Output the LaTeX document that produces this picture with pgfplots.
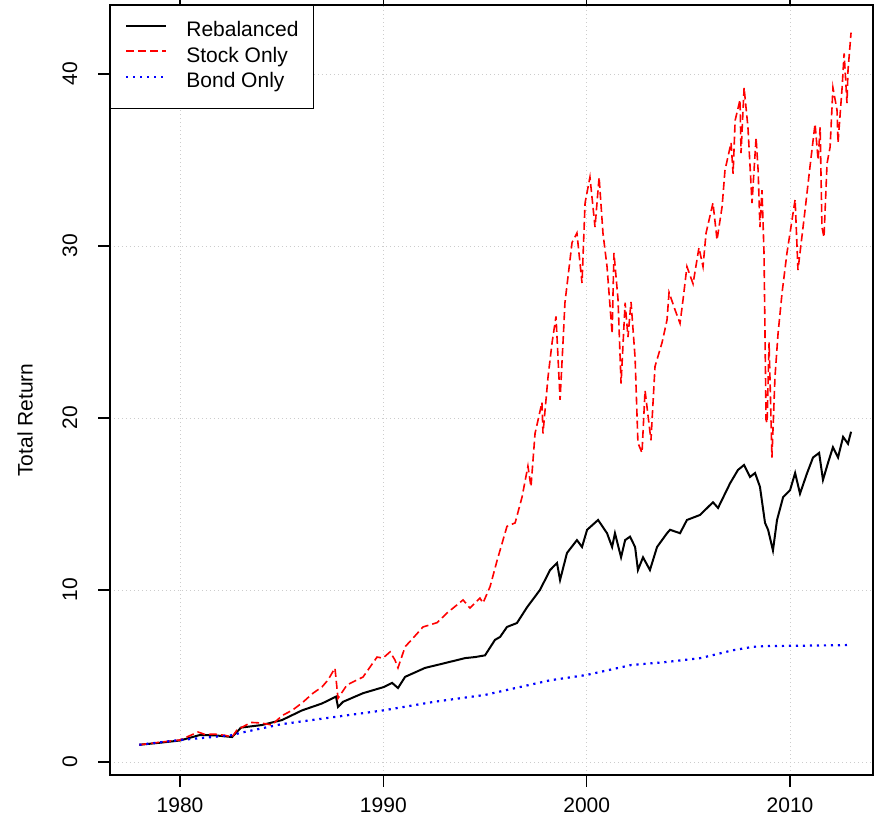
\documentclass[border=0pt]{standalone}
\usepackage{fontspec}
\setmainfont{Liberation Sans}
\usepackage{pgfplots}
\pgfplotsset{compat=1.18}

\begin{document}
\begin{tikzpicture}
\fontsize{21}{25}\selectfont
\begin{axis}[
  scale only axis,
  width=763pt, height=770pt,
  xmin=1976.557, xmax=2014.08,
  ymin=-0.756, ymax=44.01,
  xtick={1980,1990,2000,2010},
  ytick={0,10,20,30,40},
  /pgf/number format/assume math mode=true,
  xticklabel={\pgfmathprintnumber[1000 sep={},fixed]{\tick}},
  tick align=outside,
  major tick length=12pt,
  tick style={black, line width=1.1pt},
  axis line style={line width=1.3pt},
  grid=major,
  major grid style={gray!40, line width=0.9pt, dash pattern=on 1pt off 3pt},
  ticklabel style={font=\fontsize{21}{25}\selectfont, inner sep=0pt},
  xticklabel style={anchor=north, yshift=-10.5pt},
  yticklabel style={rotate=90, anchor=south, yshift=20.5pt},
  ylabel={Total Return},
  ylabel style={font=\fontsize{21}{25}\selectfont, at={(axis description cs:-0.1114,0.461)}, anchor=center, inner sep=0pt},
  legend cell align=left,
  legend style={name=leg, at={(0,1)}, anchor=north west, draw=none, fill=white,
    font=\fontsize{21}{25}\selectfont, inner xsep=15pt, inner ysep=16.5pt,
    row sep=6.5pt,
    nodes={inner sep=0pt, text height=15pt, text depth=4pt},
    /tikz/every odd column/.append style={column sep=19pt}},
  legend image code/.code={\draw[#1] (0pt,5.5pt) -- (40pt,5.5pt);},
]

% Rebalanced
\addplot[color=black, line width=2pt] coordinates {
(1978.0,1.0) (1979.02,1.12) (1980.0,1.25) (1980.98,1.57) (1981.72,1.55) (1982.56,1.45)
(1983.0,2.0) (1984.03,2.15) (1985.02,2.44) (1986.0,3.0) (1986.98,3.4) (1987.67,3.8)
(1987.77,3.2) (1988.02,3.5) (1989.0,4.0) (1990.03,4.36) (1990.43,4.6) (1990.72,4.3)
(1991.07,4.95) (1992.05,5.47) (1993.03,5.75) (1994.02,6.04) (1994.51,6.1) (1995.0,6.2)
(1995.49,7.1) (1995.74,7.27) (1996.08,7.85) (1996.57,8.08) (1997.07,9.0) (1997.70,10.0)
(1998.20,11.16) (1998.54,11.57) (1998.69,10.58) (1999.03,12.15) (1999.52,12.9) (1999.77,12.5)
(2000.02,13.5) (2000.56,14.07) (2001.0,13.3) (2001.25,12.5) (2001.39,13.3) (2001.69,11.9)
(2001.89,12.9) (2002.13,13.1) (2002.38,12.5) (2002.52,11.16) (2002.77,11.9) (2003.11,11.16)
(2003.46,12.5) (2003.95,13.3) (2004.10,13.5) (2004.59,13.3) (2004.93,14.07) (2005.57,14.36)
(2006.21,15.1) (2006.46,14.77) (2007.05,16.2) (2007.44,16.98) (2007.74,17.27) (2008.03,16.57)
(2008.28,16.8) (2008.52,16.0) (2008.77,13.9) (2008.92,13.5) (2009.16,12.3) (2009.36,14.07)
(2009.66,15.4) (2010.0,15.8) (2010.25,16.8) (2010.49,15.6) (2010.84,16.8) (2011.13,17.7)
(2011.43,17.97) (2011.62,16.4) (2011.87,17.4) (2012.11,18.3) (2012.36,17.7) (2012.61,18.9)
(2012.85,18.5) (2013.0,19.2)
};
\addlegendentry{Rebalanced}

% Stock Only
\addplot[color=red, line width=1.6pt, dash pattern=on 8pt off 4pt] coordinates {
(1978.0,1.0) (1979.02,1.15) (1980.0,1.28) (1980.89,1.74) (1981.23,1.6) (1981.72,1.62)
(1982.21,1.55) (1982.56,1.45) (1982.80,1.86) (1983.49,2.3) (1983.98,2.27) (1984.52,2.15)
(1985.02,2.7) (1985.51,3.0) (1986.0,3.43) (1986.54,4.0) (1986.98,4.36) (1987.28,4.77)
(1987.62,5.46) (1987.77,3.7) (1988.21,4.48) (1989.0,4.94) (1989.69,6.1) (1989.98,6.04)
(1990.33,6.4) (1990.57,5.93) (1990.72,5.47) (1991.07,6.7) (1991.46,7.2) (1991.95,7.85)
(1992.64,8.1) (1993.13,8.66) (1993.92,9.42) (1994.26,8.95) (1994.75,9.53) (1994.90,9.24)
(1995.25,10.2) (1995.59,11.7) (1996.08,13.7) (1996.48,13.9) (1996.82,15.4) (1997.11,17.2)
(1997.26,16.0) (1997.46,19.1) (1997.80,20.9) (1997.85,19.1) (1998.10,22.4) (1998.30,24.4)
(1998.49,25.9) (1998.59,23.5) (1998.69,21.05) (1998.84,24.5) (1998.93,26.7) (1999.08,28.2)
(1999.28,30.2) (1999.52,30.75) (1999.77,27.85) (1999.92,32.5) (2000.16,34.0) (2000.41,31.1)
(2000.61,34.0) (2000.80,30.75) (2001.0,28.8) (2001.25,24.9) (2001.34,29.6) (2001.54,26.9)
(2001.69,22.0) (2001.89,26.7) (2002.03,24.7) (2002.18,26.75) (2002.38,23.5) (2002.52,18.55)
(2002.72,17.97) (2002.87,21.6) (2003.16,18.7) (2003.36,23.0) (2003.71,24.4) (2003.95,25.7)
(2004.05,27.3) (2004.34,26.3) (2004.59,25.5) (2004.74,26.9) (2004.93,28.8) (2005.23,27.8)
(2005.52,29.9) (2005.72,28.8) (2005.87,30.75) (2006.21,32.5) (2006.41,30.35) (2006.66,32.3)
(2006.80,34.4) (2007.10,36.0) (2007.20,34.2) (2007.30,37.3) (2007.54,38.5) (2007.59,35.4)
(2007.74,39.2) (2007.93,36.9) (2008.13,32.5) (2008.33,36.3) (2008.43,34.4) (2008.52,31.1)
(2008.62,33.25) (2008.72,29.6) (2008.82,19.9) (2008.87,19.7) (2008.97,24.4) (2009.11,17.7)
(2009.26,22.4) (2009.41,24.9) (2009.61,27.3) (2009.85,29.6) (2010.0,30.75) (2010.25,32.7)
(2010.39,28.6) (2010.74,32.1) (2010.98,34.6) (2011.23,37.1) (2011.38,35.0) (2011.48,36.9)
(2011.57,31.1) (2011.67,30.5) (2011.82,34.8) (2011.97,35.75) (2012.11,39.2) (2012.31,37.9)
(2012.36,36.0) (2012.56,39.2) (2012.66,41.2) (2012.80,38.3) (2012.85,40.2) (2013.0,42.4)
};
\addlegendentry{Stock Only}

% Bond Only
\addplot[color=blue, line width=2.2pt, dash pattern=on 2.2pt off 4.8pt] coordinates {
(1978.0,1.0) (1980.0,1.28) (1982.5,1.55) (1983.0,1.7) (1985.0,2.2) (1987.5,2.6)
(1990.0,3.0) (1992.5,3.5) (1995.0,3.9) (1996.5,4.3) (1998.2,4.75) (2000.0,5.06)
(2002.2,5.64) (2003.9,5.81) (2005.6,6.04) (2007.2,6.5) (2008.2,6.7) (2008.9,6.74)
(2010.5,6.76) (2013.0,6.8)
};
\addlegendentry{Bond Only}

\end{axis}
\draw[line width=1.2pt] (leg.south west) rectangle (leg.north east);
\pgfresetboundingbox
\path ([shift={(-110pt,-49pt)}]current axis.south west) rectangle ([shift={(1pt,5pt)}]current axis.north east);
\end{tikzpicture}
\end{document}
